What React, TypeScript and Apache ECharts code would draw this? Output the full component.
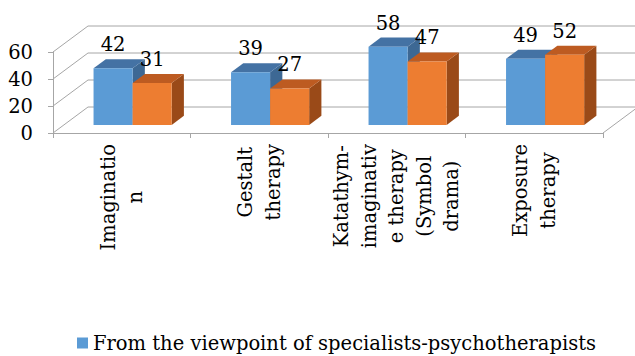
import React, { useEffect, useRef } from 'react';
import * as echarts from 'echarts';

// Category names, already broken into the lines they are printed on
const CATEGORIES = [
  'Imaginatio\nn',
  'Gestalt\ntherapy',
  'Katathym-\nimaginativ\ne therapy\n(Symbol\ndrama)',
  'Exposure\ntherapy',
];
const SPECIALISTS = [42, 39, 58, 49];
const SECOND_GROUP = [31, 27, 47, 52];
const Y_TICKS = [0, 20, 40, 60];
const SERIES_NAMES = ['From the viewpoint of specialists-psychotherapists', 'Second group'];

const FONT = 'DejaVu Serif';
const FONT_SIZE = 19.5;
const LINE = '#a6a6a6';

// Pseudo-3D box: offset from the front edge of the floor to the back wall
const DEPTH: [number, number] = [35, -26];
const BAR_FRONT = 0.31; // where the bars' front faces sit along the depth
const BAR_DEPTH = 0.35; // how deep each bar is
const BAR_RATIO = 0.284; // bar width as a share of the category band

type Faces = { front: string; top: string; side: string };
const BLUE: Faces = { front: '#5b9bd5', top: '#4472a4', side: '#3d6894' };
const ORANGE: Faces = { front: '#ed7d31', top: '#bd5b21', side: '#9a4a18' };

function barRenderer(slot: 0 | 1, faces: Faces) {
  return (_params: any, api: any) => {
    const cat = api.value(0);
    const v = api.value(1);
    const band = api.size([1, 0])[0];
    const bw = band * BAR_RATIO;
    const base = api.coord([cat, 0]);
    const top = api.coord([cat, v]);
    const ox = DEPTH[0] * BAR_FRONT;
    const oy = DEPTH[1] * BAR_FRONT;
    const dx = DEPTH[0] * BAR_DEPTH;
    const dy = DEPTH[1] * BAR_DEPTH;
    const x0 = base[0] + ox + (slot === 0 ? -bw : 0);
    const x1 = x0 + bw;
    const yb = base[1] + oy;
    const yt = top[1] + oy;
    return {
      type: 'group',
      children: [
        {
          type: 'polygon',
          shape: { points: [[x1, yt], [x1 + dx, yt + dy], [x1 + dx, yb + dy], [x1, yb]] },
          style: { fill: faces.side },
        },
        {
          type: 'polygon',
          shape: { points: [[x0, yt], [x1, yt], [x1 + dx, yt + dy], [x0 + dx, yt + dy]] },
          style: { fill: faces.top },
        },
        {
          type: 'rect',
          shape: { x: x0, y: yt, width: bw, height: yb - yt },
          style: { fill: faces.front },
        },
        {
          type: 'text',
          x: x0 + bw / 2,
          y: yt - 23.5,
          style: {
            text: String(v),
            fill: '#000',
            fontSize: FONT_SIZE,
            fontFamily: FONT,
            align: 'center',
            verticalAlign: 'middle',
          },
        },
      ],
    };
  };
}

// Back wall gridlines and left wall diagonals, one per y tick
function wallRenderer(params: any, api: any) {
  const v = api.value(1);
  const band = api.size([1, 0])[0];
  const left = api.coord([0, v]);
  const right = api.coord([CATEGORIES.length - 1, v]);
  const xl = left[0] - band / 2;
  const xr = right[0] + band / 2;
  const y = left[1];
  const children: any[] = [
    {
      type: 'polyline',
      shape: {
        points: [
          [xl, y],
          [xl + DEPTH[0], y + DEPTH[1]],
          [xr + DEPTH[0], y + DEPTH[1]],
        ],
      },
      style: { stroke: LINE, lineWidth: 1, fill: 'none' },
    },
  ];
  if (params.dataIndex === 0) {
    children.push({
      type: 'line',
      shape: { x1: xr, y1: y, x2: xr + DEPTH[0], y2: y + DEPTH[1] },
      style: { stroke: LINE, lineWidth: 1 },
    });
  }
  return { type: 'group', children };
}

export default function App() {
  const ref = useRef<HTMLDivElement>(null);

  useEffect(() => {
    if (!ref.current) return;
    const chart = echarts.init(ref.current, undefined, { renderer: 'svg' });
    chart.setOption({
      animation: false,
      backgroundColor: '#ffffff',
      grid: { left: 53, top: 52, width: 550, height: 81, containLabel: false, outerBoundsMode: 'none' },
      legend: {
        data: [SERIES_NAMES[0]],
        left: 77,
        top: 330,
        padding: 0,
        icon: 'rect',
        itemWidth: 11,
        itemHeight: 11,
        selectedMode: false,
        textStyle: { fontSize: FONT_SIZE, fontFamily: FONT, color: '#000', lineHeight: 26 },
      },
      xAxis: {
        type: 'category',
        data: CATEGORIES,
        boundaryGap: true,
        axisLine: { show: true, lineStyle: { color: LINE, width: 1 } },
        axisTick: { show: true, length: 5, lineStyle: { color: LINE, width: 1 } },
        splitLine: { show: false },
        axisLabel: {
          interval: 0,
          rotate: 90,
          margin: 11,
          color: '#000',
          fontSize: FONT_SIZE,
          fontFamily: FONT,
          formatter: (val: string) =>
            val
              .split('\n')
              .map((l) => `{c|${l}}`)
              .join('\n'),
          rich: {
            c: { align: 'center', fontSize: FONT_SIZE, fontFamily: FONT, lineHeight: 27.5, color: '#000' },
          },
        },
      },
      yAxis: {
        type: 'value',
        min: Y_TICKS[0],
        max: Y_TICKS[Y_TICKS.length - 1],
        interval: Y_TICKS[1] - Y_TICKS[0],
        axisLine: { show: true, lineStyle: { color: LINE, width: 1 } },
        axisTick: { show: true, length: 5, lineStyle: { color: LINE, width: 1 } },
        splitLine: { show: false },
        axisLabel: { margin: 20, color: '#000', fontSize: FONT_SIZE, fontFamily: FONT },
      },
      series: [
        {
          type: 'custom',
          name: 'walls',
          silent: true,
          renderItem: wallRenderer,
          data: Y_TICKS.map((v) => [0, v]),
        },
        {
          type: 'custom',
          name: SERIES_NAMES[0],
          silent: true,
          itemStyle: { color: BLUE.front },
          renderItem: barRenderer(0, BLUE),
          data: SPECIALISTS.map((v, i) => [i, v]),
        },
        {
          type: 'custom',
          name: SERIES_NAMES[1],
          silent: true,
          itemStyle: { color: ORANGE.front },
          renderItem: barRenderer(1, ORANGE),
          data: SECOND_GROUP.map((v, i) => [i, v]),
        },
      ],
    });
    return () => chart.dispose();
  }, []);

  return (
    <div
      ref={ref}
      style={{ position: 'fixed', left: 0, top: 0, width: 635, height: 356 }}
    />
  );
}
